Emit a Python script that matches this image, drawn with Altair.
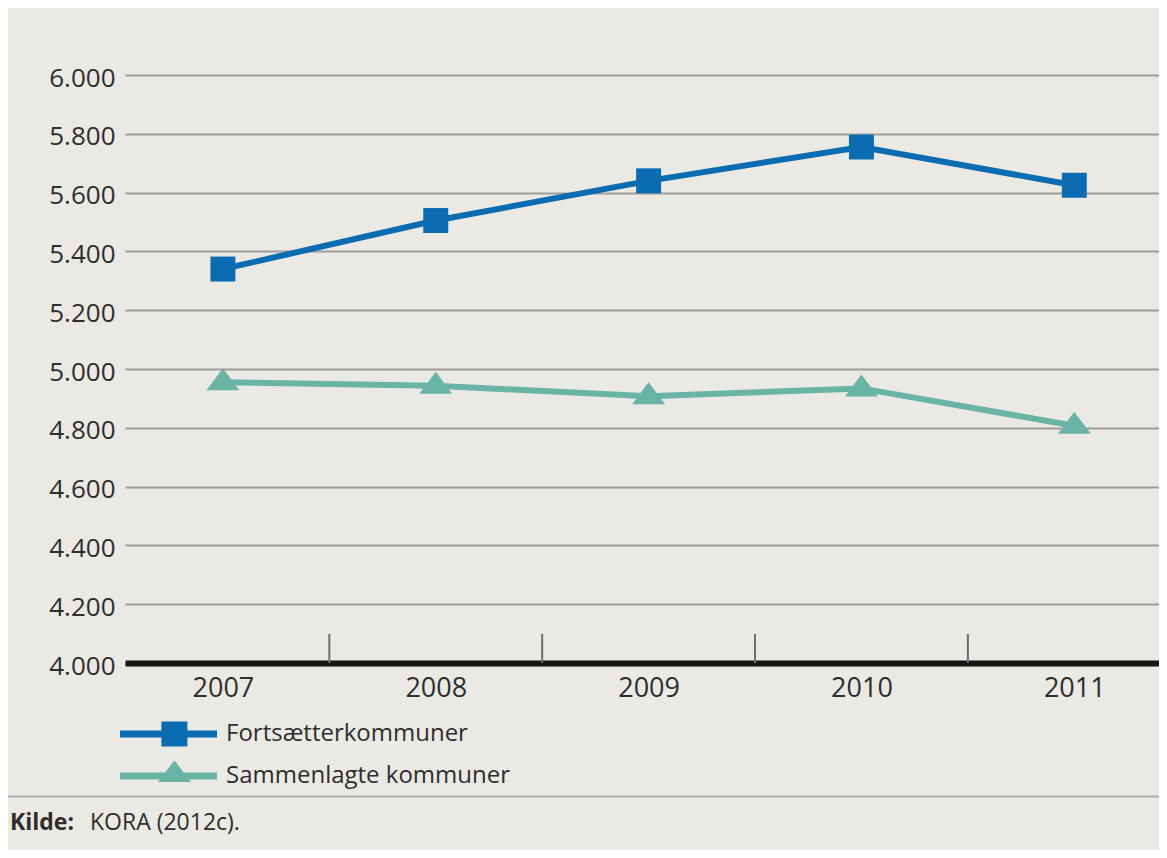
import altair as alt
import pandas as pd

# ---- data ----
years = [2007, 2008, 2009, 2010, 2011]
fortsaetter = [5340, 5505, 5640, 5755, 5625]
sammenlagte = [4955, 4943, 4907, 4934, 4807]
series_names = ["Fortsætterkommuner", "Sammenlagte kommuner"]
series_colors = ["#0b6cb2", "#69b3a7"]
y_ticks = list(range(4000, 6001, 200))
source_label = "Kilde:"
source_text = "KORA (2012c)."

# ---- layout constants ----
VIEW_W, VIEW_H = 1034, 588
PAD_L, PAD_T, PAD_B = 117, 67, 187
FONT = "Open Sans"
TXT = "#2e2e2e"
BG = "#eae9e4"

df = pd.DataFrame({
    "year": years * 2,
    "value": fortsaetter + sammenlagte,
    "serie": [series_names[0]] * len(years) + [series_names[1]] * len(years),
})
tick_df = pd.DataFrame({"pos": [y + 0.5 for y in years[:-1]]})

x_scale = alt.Scale(domain=[2006.54, 2011.398], nice=False, zero=False)
x_axis = alt.Axis(values=years, format="d", title=None, ticks=False, tickSize=0,
                  grid=False, domainColor="#151515", domainWidth=6,
                  labelFont=FONT, labelFontSize=27, labelColor=TXT,
                  labelPadding=12, labelFlush=False)
y_scale = alt.Scale(domain=[4000, 6000], nice=False, zero=False)
y_axis = alt.Axis(values=y_ticks, title=None, ticks=False, tickSize=0, domain=False,
                  grid=True, gridColor="#9d9d9a", gridWidth=2,
                  labelFont=FONT, labelFontSize=26, labelColor=TXT,
                  labelPadding=10, labelOffset=3,
                  labelExpr="replace(format(datum.value, ','), ',', '.')")

color_scale = alt.Scale(domain=series_names, range=series_colors)

sq_path = "M-0.78,-0.78H0.78V0.78H-0.78Z"
tri_path = "M-1.03,0.5L0,-0.875L1.03,0.5Z"
leg_sq = "M-1,-0.17H3.85V0.17H-1Z M1.07,-0.63H2.37V0.63H1.07Z"
leg_tri = "M-1,-0.17H3.85V0.17H-1Z M0.9,0.3L1.725,-0.78L2.55,0.3Z"
point_paths = [sq_path, tri_path]

base = alt.Chart(df)
X = alt.X("year:Q", scale=x_scale, axis=x_axis)
Y = alt.Y("value:Q", scale=y_scale, axis=y_axis)

ticks = alt.Chart(tick_df).mark_rule(color="#6e6e6e", strokeWidth=2).encode(
    x=alt.X("pos:Q", scale=x_scale, axis=x_axis),
    y=alt.value(VIEW_H - 29),
    y2=alt.value(VIEW_H),
)

layers = [ticks]
for name, col, path in zip(series_names, series_colors, point_paths):
    sub = base.transform_filter(alt.datum.serie == name)
    layers.append(sub.mark_line(strokeWidth=6, color=col).encode(x=X, y=Y))
for name, col, path in zip(series_names, series_colors, point_paths):
    sub = base.transform_filter(alt.datum.serie == name)
    layers.append(sub.mark_point(shape=path, size=1024, filled=True, opacity=1,
                                 strokeWidth=0, color=col).encode(x=X, y=Y))

legend = alt.Legend(title=None, orient="none", legendX=-5, legendY=639,
                    symbolSize=1600, symbolStrokeWidth=0, symbolOpacity=1,
                    labelFont=FONT, labelFontSize=24, labelColor=TXT, labelLimit=500,
                    labelOffset=66, rowPadding=9, padding=0, offset=0)

legend_layer = base.mark_point(size=1600, filled=True, opacity=0, strokeWidth=0).encode(
    x=X, y=Y,
    color=alt.Color("serie:N", scale=color_scale, legend=legend),
    shape=alt.Shape("serie:N", scale=alt.Scale(domain=series_names, range=[leg_sq, leg_tri]),
                    legend=legend),
)
layers.append(legend_layer)

separator = alt.Chart(pd.DataFrame({"a": [0]})).mark_rule(color="#a9a9a6", strokeWidth=2).encode(
    x=alt.value(-PAD_L), x2=alt.value(VIEW_W), y=alt.value(796.5 - 75)
)

src1 = alt.Chart(pd.DataFrame({"t": [source_label]})).mark_text(
    align="left", baseline="middle", font=FONT, fontSize=23, fontWeight="bold", color=TXT
).encode(text="t:N", x=alt.value(10 - 125), y=alt.value(823 - 75))

src2 = alt.Chart(pd.DataFrame({"t": [source_text]})).mark_text(
    align="left", baseline="middle", font=FONT, fontSize=23, color=TXT
).encode(text="t:N", x=alt.value(90 - 125), y=alt.value(823 - 75))

layers += [separator, src1, src2]

chart = alt.layer(*layers).properties(
    width=VIEW_W, height=VIEW_H, background=BG,
    autosize=alt.AutoSizeParams(type="none"),
    padding={"left": PAD_L, "top": PAD_T, "right": 0, "bottom": PAD_B},
).configure_view(strokeWidth=0)

chart.save("out.html", embed_options={"renderer": "svg", "actions": False})
